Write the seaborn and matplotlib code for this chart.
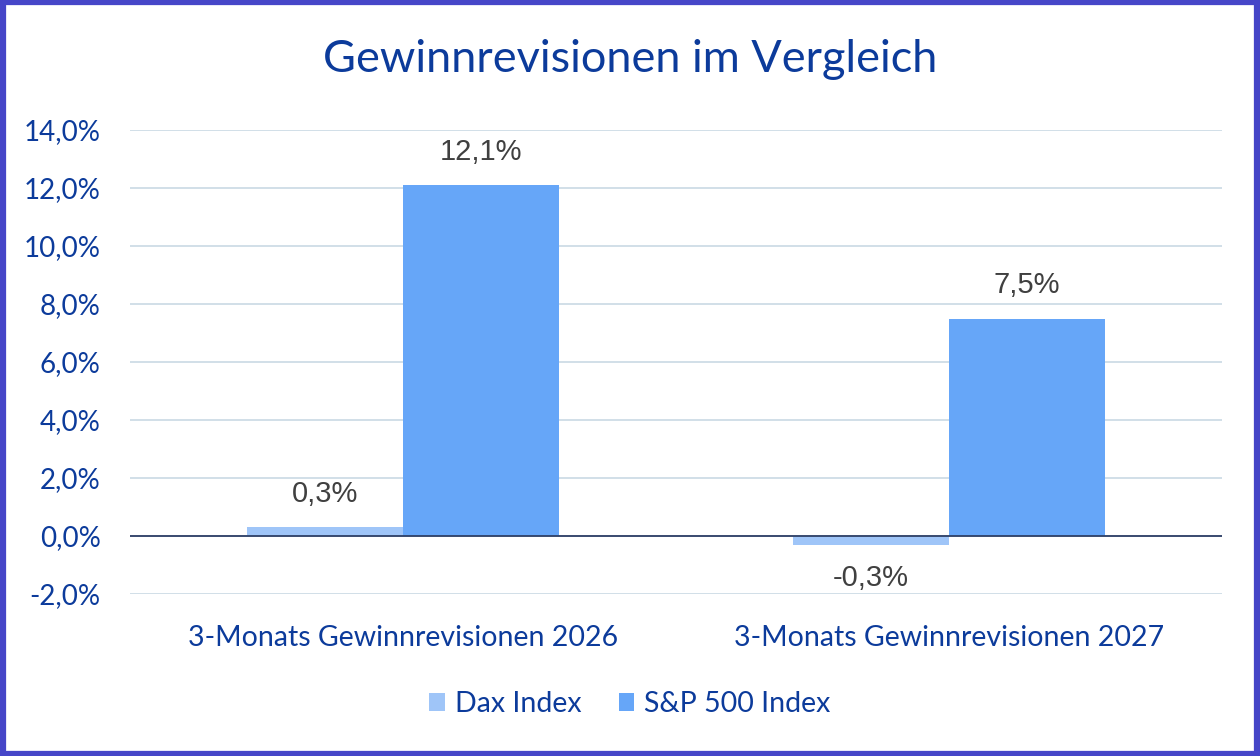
import matplotlib
matplotlib.use("Agg")
import matplotlib.pyplot as plt
import seaborn as sns
import pandas as pd
from matplotlib.patches import Rectangle

categories = ["3-Monats Gewinnrevisionen 2026", "3-Monats Gewinnrevisionen 2027"]
series_names = ["Dax Index", "S&P 500 Index"]
dax_values = [0.3, -0.3]
sp_values = [12.1, 7.5]
y_ticks = [-2, 0, 2, 4, 6, 8, 10, 12, 14]

df = pd.DataFrame({
    "Kategorie": categories * 2,
    "Index": [series_names[0]] * 2 + [series_names[1]] * 2,
    "Wert": dax_values + sp_values,
})

sns.set_theme(style="white")
plt.rcParams["font.family"] = ["Lato", "DejaVu Sans"]

text_blue = "#0C3B9B"
colors = ["#9FC5F8", "#66A6F8"]

fig = plt.figure(figsize=(12.6, 7.56), dpi=100)
ax = fig.add_axes([130 / 1260, 1 - 594 / 756, (1222 - 130) / 1260, (594 - 130) / 756])

sns.barplot(data=df, x="Kategorie", y="Wert", hue="Index", palette=colors,
            width=0.571, ax=ax, saturation=1, legend=True, linewidth=0)

ax.set_ylim(-2, 14)
ax.set_yticks(y_ticks)
ax.set_yticklabels([f"{v:.1f}%".replace(".", ",") for v in y_ticks])
ax.set_xlabel("")
ax.set_ylabel("")
for s in ax.spines.values():
    s.set_visible(False)
ax.yaxis.grid(True, color="#C5D6E2", linewidth=1.1)
ax.set_axisbelow(True)
ax.axhline(0, color="#2E3F66", linewidth=1.3, zorder=3)
ax.tick_params(axis="y", colors=text_blue, labelsize=20, length=0, pad=21)
ax.tick_params(axis="x", colors=text_blue, labelsize=20.5, length=0, pad=22)

for cont in ax.containers:
    labels = [f"{b.get_height():.1f}%".replace(".", ",") for b in cont]
    ax.bar_label(cont, labels=labels, padding=14, fontsize=21,
                 color="#404040", family=["Liberation Sans", "DejaVu Sans"])

handles, labs = ax.get_legend_handles_labels()
ax.get_legend().remove()
fig.legend(handles, labs, loc="center", bbox_to_anchor=(0.5, 1 - 704 / 756), ncol=2,
           frameon=False, fontsize=20.5, labelcolor=text_blue, handlelength=0.55,
           handleheight=0.55, handletextpad=0.35, columnspacing=1.3)

fig.text(0.5, 1 - 60 / 756, "Gewinnrevisionen im Vergleich", ha="center", va="center",
         fontsize=32.5, color=text_blue)

fig.patches.append(Rectangle((0.002, 0.003), 0.996, 0.994, transform=fig.transFigure,
                             fill=False, edgecolor="#4646C8", linewidth=4.5))

fig.savefig("out.png", dpi=100)
